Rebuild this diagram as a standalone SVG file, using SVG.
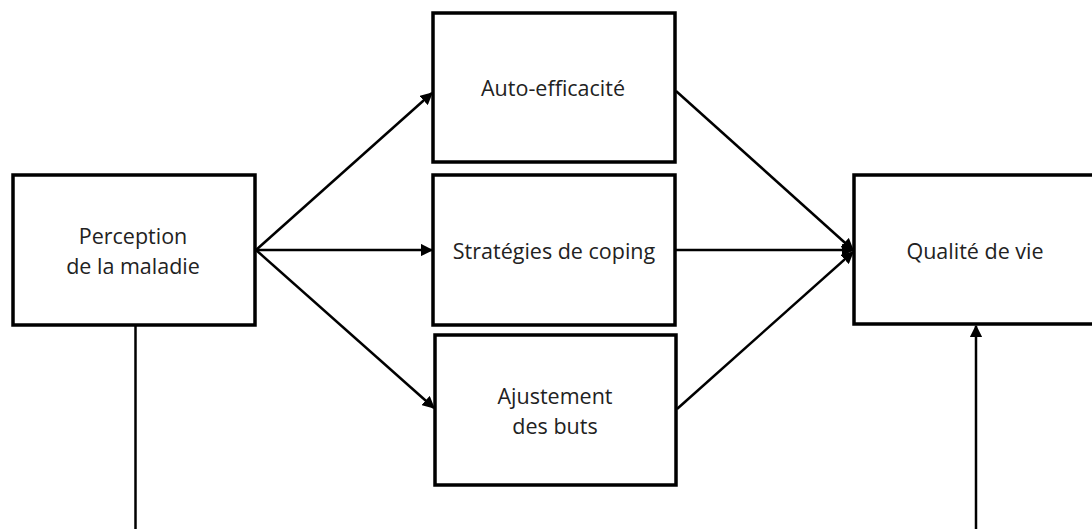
<svg xmlns="http://www.w3.org/2000/svg" width="1092" height="529" viewBox="0 0 1092 529">
<style>
.box{fill:#fff;stroke:#000;stroke-width:3.5}
.lbl{font-family:"Open Sans","Liberation Sans",sans-serif;font-size:21.5px;fill:#222;text-anchor:middle}
.con{stroke:#000;stroke-width:2.5;fill:none}
</style>
<defs>
<marker id="ah" viewBox="0 0 10 10" refX="9" refY="5" markerWidth="5" markerHeight="5" orient="auto" markerUnits="strokeWidth">
<path d="M0,0 L10,5 L0,10 z" fill="#000"/>
</marker>
</defs>
<g id="n-perception"><rect class="box" x="13" y="175" width="242" height="150"/>
<text class="lbl" x="133" y="244">Perception</text><text class="lbl" x="133" y="274">de la maladie</text></g>
<g id="n-auto"><rect class="box" x="433" y="13" width="242" height="149"/>
<text class="lbl" x="553" y="96">Auto-efficacité</text></g>
<g id="n-strategies"><rect class="box" x="433" y="175" width="242" height="150"/>
<text class="lbl" x="554" y="259">Stratégies de coping</text></g>
<g id="n-ajustement"><rect class="box" x="435" y="335" width="241" height="150"/>
<text class="lbl" x="555" y="404">Ajustement</text><text class="lbl" x="555" y="434">des buts</text></g>
<g id="n-qualite"><rect class="box" x="854" y="175" width="250" height="149"/>
<text class="lbl" x="975" y="259">Qualité de vie</text></g>
<g id="connectors">
<line class="con" x1="256" y1="250" x2="432" y2="93" marker-end="url(#ah)"/>
<line class="con" x1="256" y1="250" x2="432" y2="250" marker-end="url(#ah)"/>
<line class="con" x1="256" y1="250" x2="434" y2="408" marker-end="url(#ah)"/>
<line class="con" x1="676" y1="91" x2="853" y2="250" marker-end="url(#ah)"/>
<line class="con" x1="676" y1="250" x2="853" y2="250" marker-end="url(#ah)"/>
<line class="con" x1="677" y1="409" x2="853" y2="252" marker-end="url(#ah)"/>
<line class="con" x1="135.5" y1="326" x2="135.5" y2="529"/>
<line class="con" x1="976" y1="529" x2="976" y2="326" marker-end="url(#ah)"/>
</g>
</svg>
